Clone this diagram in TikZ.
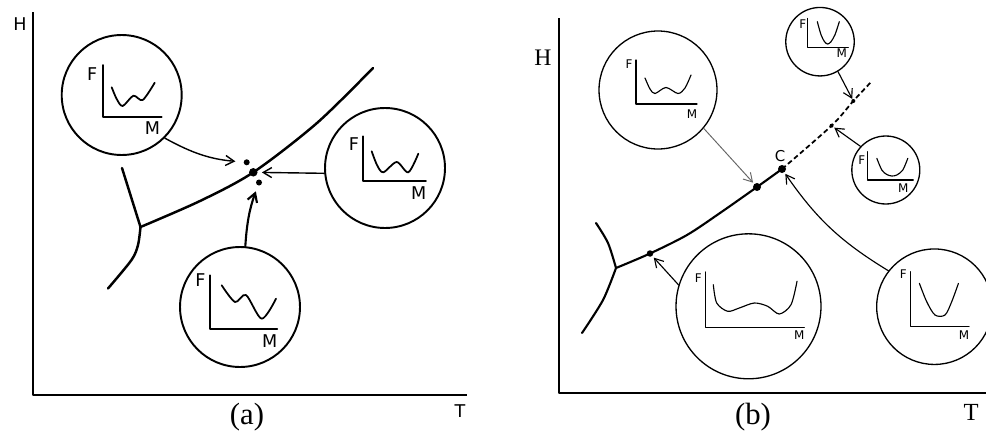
\documentclass[tikz,border=0pt]{standalone}
\usepackage{fontspec}
\setmainfont{Liberation Serif}
\setsansfont{DejaVu Sans}
\usetikzlibrary{arrows.meta}

\begin{document}
\begin{tikzpicture}[x=0.02cm, y=-0.02cm, line join=round, line cap=round,
  bubA/.style={draw, circle, line width=1.1pt, inner sep=0pt, minimum size=2.4cm},
  bubB/.style={draw, circle, line width=0.75pt, inner sep=0pt, minimum size=#1},
  blob/.style={circle, fill, inner sep=0pt, minimum size=#1},
  blob/.default=0.12cm,
  lblA/.style={font=\sffamily\fontsize{10}{11}\selectfont, inner sep=0pt},
  lblB/.style={font=\sffamily\fontsize{6.8}{7}\selectfont, inner sep=0pt},
  serif/.style={font=\fontsize{#1}{#1}\selectfont, inner sep=0pt},
  miniA/.style={line width=1pt},
  miniB/.style={line width=0.65pt},
  phaseA/.style={line width=1.4pt},
  phaseB/.style={line width=1.2pt},
  arr/.style={-{Straight Barb[length=1.7mm,width=2mm]}, line width=0.8pt}]
\useasboundingbox (0,0) rectangle (986,436);

% (a)
\draw[line width=0.9pt, line cap=butt] (33,12) -- (33,395) -- (467,395);
\node[lblA] (Ha) at (20,24) {H};
\node[lblA] (Ta) at (460,411) {T};
\node[serif=17.5] (capA) at (247,417) {(a)};

\coordinate (tpA) at (140.5,227);
\draw[phaseA] (122,168) -- (tpA);
\draw[phaseA] plot[smooth] coordinates {(tpA) (138,245) (131.5,260) (108,288.5)};
\draw[phaseA] plot[smooth] coordinates {(tpA) (200,201) (253.3,172.3) (317,123) (373,68)};

\node[blob=0.17cm] (dMain) at (253.3,172.3) {};
\node[blob] (dUp) at (246.7,162.3) {};
\node[blob] (dLow) at (259,182.5) {};

\node[bubA] (cTL) at (121.7,95) {};
\node[bubA] (cR) at (385,168) {};
\node[bubA] (cB) at (240,307) {};

\begin{scope}[shift={(cTL.center)}]
\draw[miniA] (-19,-30) -- (-19,21.7) -- (40,21.7);
\node[lblA] (cTL-F) at (-29.5,-20.8) {F};
\node[lblA] (cTL-M) at (30.8,33.3) {M};
\draw[miniA] plot[smooth] coordinates {(-10,-7.7) (-5,4) (1,11) (11.7,0.7) (21,5) (33,-12.3)};
\end{scope}
\begin{scope}[shift={(cR.center)}]
\draw[miniA] (-21.7,-31.7) -- (-21.7,13.3) -- (41,13.3);
\node[lblA] (cR-F) at (-31.2,-24.2) {F};
\node[lblA] (cR-M) at (33.8,25.3) {M};
\draw[miniA] plot[smooth] coordinates {(-13.3,-16.7) (-8,-3) (-1.7,4.3) (11.7,-6) (23.3,4.3) (33.3,-14.3)};
\end{scope}
\begin{scope}[shift={(cB.center)}]
\draw[miniA] (-30,-31.7) -- (-30,21.7) -- (37.3,21.7);
\node[lblA] (cB-F) at (-39.5,-26.7) {F};
\node[lblA] (cB-M) at (29.7,33.8) {M};
\draw[miniA] plot[smooth] coordinates {(-18.3,-21.7) (-5,-5) (6,-12) (21.7,11.7) (36,-8.3)};
\end{scope}

\draw[arr, shorten >=0.16cm] (cTL.-45) to[bend right=12] (dUp);
\draw[arr, shorten >=0.08cm] (cR.185) -- (dMain);
\draw[arr, line width=1.2pt, shorten >=0.12cm] (cB.85) to[bend left=8] (dLow);

% (b)
\draw[line width=0.9pt, line cap=butt] (559,18) -- (559,393) -- (986,393);
\node[serif=13.5] (Hb) at (543,58) {H};
\node[serif=14] (Tb) at (971,412) {T};
\node[serif=17.5] (capB) at (753,417) {(b)};

\coordinate (tpB) at (616,268);
\draw[phaseB] plot[smooth] coordinates {(tpB) (608,243) (596,223)};
\draw[phaseB] plot[smooth] coordinates {(tpB) (603,300) (582,333)};
\draw[phaseB] plot[smooth] coordinates {(tpB) (650,253.5) (687,235) (720,213) (757,187) (782,169)};
\draw[line width=1pt, line cap=butt, dash pattern=on 2.8pt off 1.7pt] plot[smooth] coordinates {(782,169) (831.5,125.7) (853.3,101) (872,81)};

\node[blob=0.13cm] (dB1) at (650,253.5) {};
\node[blob=0.16cm] (dB2) at (757,187) {};
\node[blob=0.16cm] (dC) at (782,169) {};
\node[font=\sffamily\fontsize{8.5}{9}\selectfont, inner sep=0pt] (lblC) at (780,156.5) {C};
\node[blob=0.08cm] (dS1) at (853.3,101) {};
\node[blob=0.08cm] (dS2) at (831.5,125.7) {};

\node[bubB=2.36cm] (cUL) at (658,90) {};
\node[bubB=1.37cm] (cTop) at (820,41.7) {};
\node[bubB=1.36cm] (cRt) at (885.8,170) {};
\node[bubB=2.9cm] (cBig) at (748.5,306.3) {};
\node[bubB=2.31cm] (cBR) at (934.4,306.7) {};

\begin{scope}[shift={(cUL.center)}]
\draw[miniB] (-22,-30) -- (-22,14) -- (39,14);
\node[lblB] (cUL-F) at (-29,-26) {F};
\node[lblB] (cUL-M) at (34,24) {M};
\draw[miniB] plot[smooth] coordinates {(-13,-12) (-8,-1) (-3,3.5) (8,-2.5) (20,3.5) (27,-2) (33,-15)};
\end{scope}
\begin{scope}[shift={(cTop.center)}]
\draw[miniB] (-12.3,-23.3) -- (-12.3,6) -- (28.3,6);
\node[lblB] (cTop-F) at (-17.3,-17.7) {F};
\node[lblB] (cTop-M) at (21.7,11.7) {M};
\draw[miniB] plot[smooth] coordinates {(-2.7,-20) (1,-7) (4.5,0) (7.7,2.3) (11,0) (15,-7) (19.3,-20)};
\end{scope}
\begin{scope}[shift={(cRt.center)}]
\draw[miniB] (-18,-18.3) -- (-18,10) -- (27.5,10);
\node[lblB] (cRt-F) at (-24,-10) {F};
\node[lblB] (cRt-M) at (17.5,18.3) {M};
\draw[miniB] plot[smooth] coordinates {(-9,-11.7) (-4,0) (1,4.5) (6,6) (11,5) (17,0) (22,-11.7)};
\end{scope}
\begin{scope}[shift={(cBig.center)}]
\draw[miniB] (-43.2,-34.3) -- (-43.2,21) -- (55.8,21);
\node[lblB] (cBig-F) at (-50.2,-28.3) {F};
\node[lblB] (cBig-M) at (50.8,29) {M};
\draw[miniB] plot[smooth] coordinates {(-35.2,-21.6) (-31.8,-3.3) (-20.8,5) (-9.2,1.7) (5.8,-3.3) (19.2,0) (30.8,7.7) (42.5,-1.6) (48.5,-25)};
\end{scope}
\begin{scope}[shift={(cBR.center)}]
\draw[miniB] (-23.7,-35) -- (-23.7,20) -- (34.6,20);
\node[lblB] (cBR-F) at (-31,-32.4) {F};
\node[lblB] (cBR-M) at (29.6,28.3) {M};
\draw[miniB] plot[smooth] coordinates {(-15,-23.3) (-7.7,-5) (0.6,8.3) (10.6,8.3) (17.3,-5) (24,-23.3)};
\end{scope}

\draw[arr, line width=0.55pt, black!60, shorten >=0.03cm] (cUL.-40) -- (dB2);
\draw[arr, line width=0.65pt, shorten >=0.03cm] (cBR.142) to[bend left=12] (dC);
\draw[arr, line width=0.65pt, shorten >=0.04cm] (cBig.163) -- (dB1);
\draw[arr, line width=0.65pt] (cTop.-59) -- (dS1);
\draw[arr, line width=0.65pt, shorten >=0.02cm] (cRt.137) -- (dS2);
\end{tikzpicture}
\end{document}
